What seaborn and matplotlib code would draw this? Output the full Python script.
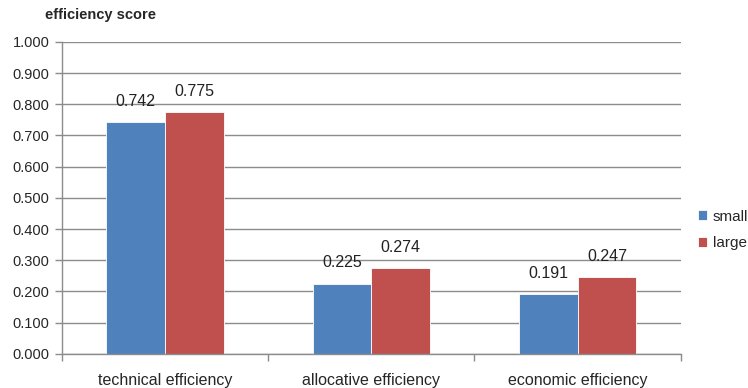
import numpy as np
import pandas as pd
import matplotlib
matplotlib.use("Agg")
import matplotlib.pyplot as plt
import seaborn as sns
from matplotlib.ticker import FixedLocator

# data
categories = ["technical efficiency", "allocative efficiency", "economic efficiency"]
small_vals = [0.742, 0.225, 0.191]
large_vals = [0.775, 0.274, 0.247]
series = ["small", "large"]
y_ticks = [0.0, 0.1, 0.2, 0.3, 0.4, 0.5, 0.6, 0.7, 0.8, 0.9, 1.0]

df = pd.DataFrame({
    "category": categories * 2,
    "group": ["small"] * 3 + ["large"] * 3,
    "score": small_vals + large_vals,
})

sns.set_theme(style="white")
plt.rcParams["font.family"] = ["Liberation Sans", "DejaVu Sans"]

fig = plt.figure(figsize=(7.48, 3.88), dpi=100)
ax = fig.add_axes([0.083, 0.088, 0.827, 0.804])

sns.barplot(data=df, x="category", y="score", hue="group", hue_order=series,
            order=categories, palette=["#4F81BD", "#C0504D"], width=0.57,
            saturation=1, ax=ax, errorbar=None, linewidth=0.6, edgecolor="white")

for cont in ax.containers:
    ax.bar_label(cont, fmt="%.3f", padding=9.5, fontsize=11.5, color="#222222")

ax.set_ylim(0, 1.0)
ax.set_xlim(-0.5, 2.5)
ax.set_yticks(y_ticks)
ax.set_yticklabels([f"{t:.3f}" for t in y_ticks], fontsize=10.5)
ax.yaxis.grid(True, color="#8c8c8c", linewidth=1.0)
ax.set_axisbelow(True)

# category boundaries as tick marks, labels in between
ax.xaxis.set_major_locator(FixedLocator([0, 1, 2]))
ax.xaxis.set_minor_locator(FixedLocator([-0.5, 0.5, 1.5, 2.5]))
ax.tick_params(axis="x", which="major", length=0, pad=14, labelsize=11.5)
ax.tick_params(axis="x", which="minor", length=5, color="#8c8c8c", width=1.0, bottom=True)
ax.tick_params(axis="y", length=5, color="#8c8c8c", width=1.0, left=True, pad=4)

for s in ["top", "right"]:
    ax.spines[s].set_visible(False)
for s in ["left", "bottom"]:
    ax.spines[s].set_color("#8c8c8c")
    ax.spines[s].set_linewidth(1.0)

ax.set_xlabel("")
ax.set_ylabel("")
fig.text(0.06, 0.962, "efficiency score", fontsize=10.5, fontweight="bold", va="center")

ax.legend(title=None, frameon=False, loc="center left",
          bbox_to_anchor=(698 / 748, 1 - 230 / 388), bbox_transform=fig.transFigure,
          borderaxespad=0, borderpad=0,
          fontsize=11, handlelength=0.6, handleheight=0.6, handletextpad=0.35,
          labelspacing=0.85)

fig.savefig("out.png", dpi=100)
